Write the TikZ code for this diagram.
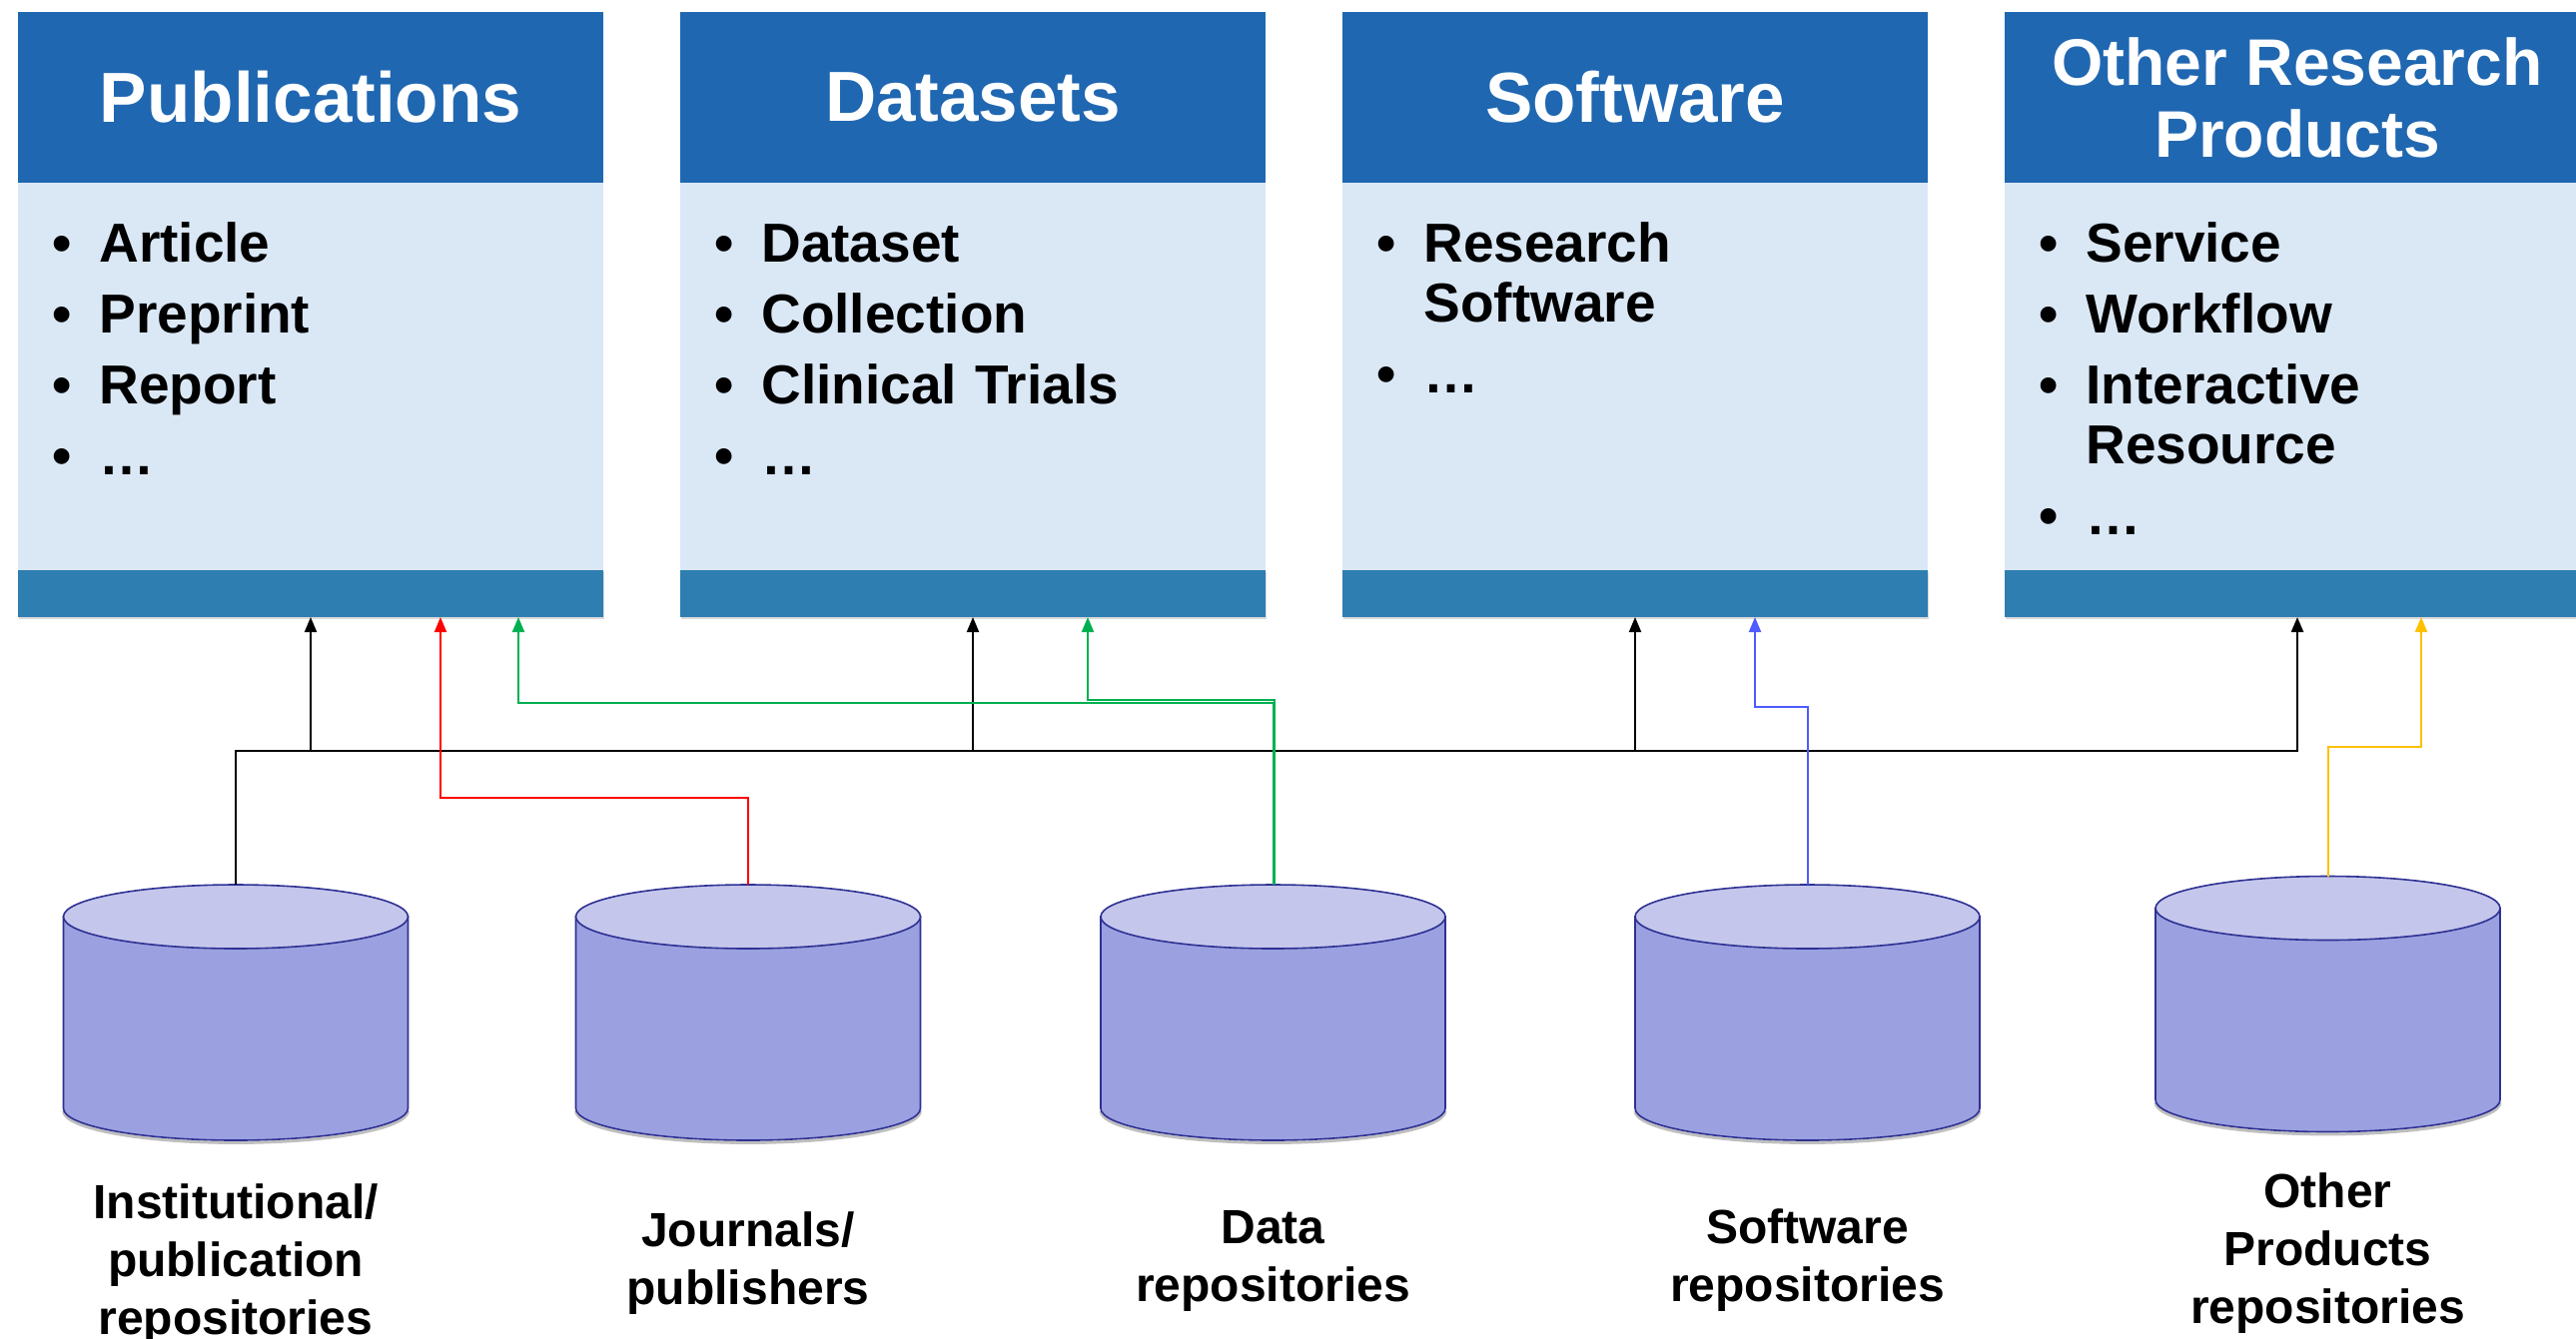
\documentclass[tikz,border=0pt]{standalone}
\usepackage{fontspec}
\setmainfont{Liberation Sans}
\usetikzlibrary{positioning,arrows.meta,shadows}

\definecolor{headblue}{HTML}{2067B1}
\definecolor{bodyblue}{HTML}{DAE8F6}
\definecolor{footblue}{HTML}{2E7EB1}
\definecolor{cylbody}{HTML}{9BA0E0}
\definecolor{cyltop}{HTML}{C4C6EC}
\definecolor{cylline}{HTML}{2E3192}
\definecolor{datagreen}{HTML}{00B050}
\definecolor{softblue}{HTML}{4F5BFF}
\definecolor{prodyellow}{HTML}{FFC000}

\newcommand{\bul}{\makebox[23.5pt][l]{\textbullet}}
\newcommand{\ind}{\hspace*{23.5pt}}
% cylinder drawn on the frame of a named repo node
\newcommand{\drawrepo}[1]{%
 \draw[black,opacity=0.25,line width=1.5pt] ([yshift=14.8pt]#1.south west)
  arc[start angle=180,end angle=360,x radius=86.25pt,y radius=16pt];
 \filldraw[repo body] ([yshift=-16pt]#1.north west) -- ([yshift=16pt]#1.south west)
  arc[start angle=180,end angle=360,x radius=86.25pt,y radius=16pt]
  -- ([yshift=-16pt]#1.north east) -- cycle;
 \filldraw[repo top] ([yshift=-16pt]#1.north) ellipse[x radius=86.25pt,y radius=16pt];}

\begin{document}
\begin{tikzpicture}[x=0.5pt,y=-0.5pt,
head node/.style={fill=headblue,text=white,minimum width=293pt,minimum height=85.5pt,inner sep=0pt,outer sep=0pt,align=center,font=\fontsize{35.5pt}{36pt}\selectfont\bfseries},
body node/.style={fill=bodyblue,minimum width=293pt,minimum height=194pt,inner sep=0pt,outer sep=0pt},
foot node/.style={fill=footblue,minimum width=293pt,minimum height=23.5pt,inner sep=0pt,outer sep=0pt,drop shadow={shadow xshift=0.5pt,shadow yshift=-1.2pt,opacity=0.3}},
list node/.style={anchor=base west,text width=265pt,inner sep=0pt,align=left,font=\fontsize{27.5pt}{30pt}\selectfont\bfseries},
repo node/.style={minimum width=172.5pt,minimum height=128pt,inner sep=0pt,outer sep=0pt},
repo body/.style={draw=cylline,fill=cylbody,line width=0.8pt},
repo top/.style={draw=cylline,fill=cyltop,line width=0.8pt},
repo label/.style={anchor=base,text width=200pt,inner sep=0pt,align=center,font=\fontsize{24pt}{29pt}\selectfont\bfseries},
conn/.style={line width=1pt,-{Triangle[length=7.5pt,width=6pt]}}]
\useasboundingbox (0,0) rectangle (2579,1340);

% product boxes
\node[head node,anchor=north west] (pubs-head) at (18,12) {Publications};
\node[body node,below=0pt of pubs-head] (pubs-body) {};
\node[foot node,below=0pt of pubs-body] (pubs-foot) {};
\node[list node] (pubs-list) at ([shift={(17pt,-39.5pt)}]pubs-body.north west)
 {\bul Article\\[5.5pt]\bul Preprint\\[5.5pt]\bul Report\\[5.5pt]\bul …};

\node[head node,right=38.5pt of pubs-head] (dset-head) {Datasets};
\node[body node,below=0pt of dset-head] (dset-body) {};
\node[foot node,below=0pt of dset-body] (dset-foot) {};
\node[list node] (dset-list) at ([shift={(17pt,-39.5pt)}]dset-body.north west)
 {\bul Dataset\\[5.5pt]\bul Collection\\[5.5pt]\bul Clinical Trials\\[5.5pt]\bul …};

\node[head node,right=38.5pt of dset-head] (soft-head) {Software};
\node[body node,below=0pt of soft-head] (soft-body) {};
\node[foot node,below=0pt of soft-body] (soft-foot) {};
\node[list node] (soft-list) at ([shift={(17pt,-39.5pt)}]soft-body.north west)
 {\bul Research\\\ind Software\\[5.5pt]\bul …};

\node[head node,right=38.5pt of soft-head,font=\fontsize{33pt}{36pt}\selectfont\bfseries] (other-head) {Other Research\\Products};
\node[body node,below=0pt of other-head] (other-body) {};
\node[foot node,below=0pt of other-body] (other-foot) {};
\node[list node] (other-list) at ([shift={(17pt,-39.5pt)}]other-body.north west)
 {\bul Service\\[5.5pt]\bul Workflow\\[5.5pt]\bul Interactive\\\ind Resource\\[5.5pt]\bul …};

% repositories
\node[repo node] (inst) at (236,1014) {};
\node[repo node] (jour) at (749,1014) {};
\node[repo node] (data) at (1274.5,1014) {};
\node[repo node] (softrepo) at (1809.5,1014) {};
\node[repo node] (otherrepo) at (2330.5,1005.5) {};
\drawrepo{inst}
\drawrepo{jour}
\drawrepo{data}
\drawrepo{softrepo}
\drawrepo{otherrepo}

\node[repo label] (inst-label) at ([yshift=-39pt]inst.south) {Institutional/\\publication\\repositories};
\node[repo label] (jour-label) at ([yshift=-53pt]jour.south) {Journals/\\publishers};
\node[repo label] (data-label) at ([yshift=-51.5pt]data.south) {Data\\repositories};
\node[repo label] (softrepo-label) at ([yshift=-51.5pt]softrepo.south) {Software\\repositories};
\node[repo label] (otherrepo-label) at ([yshift=-38pt]otherrepo.south) {Other\\Products\\repositories};

% connectors
\coordinate (bus) at (0,752);
\draw[conn,line width=1.2pt] (inst.north) |- (other-foot.south |- bus) -- (other-foot.south);
\draw[conn] (pubs-foot.south |- bus) -- (pubs-foot.south);
\draw[conn] (dset-foot.south |- bus) -- (dset-foot.south);
\draw[conn] (soft-foot.south |- bus) -- (soft-foot.south);

\draw[conn,red] (jour.north) -- ++(0,-87) -| ([xshift=65pt]pubs-foot.south);
\draw[conn,datagreen] (data.north) -- ++(0,-182) -| ([xshift=104pt]pubs-foot.south);
\draw[conn,datagreen] ([xshift=0.8pt]data.north) -- ++(0,-185) -| ([xshift=57.5pt]dset-foot.south);
\draw[conn,softblue] (softrepo.north) -- ++(0,-178) -| ([xshift=60pt]soft-foot.south);
\draw[conn,prodyellow] (otherrepo.north) -- ++(0,-130) -| ([xshift=62pt]other-foot.south);
\end{tikzpicture}
\end{document}
